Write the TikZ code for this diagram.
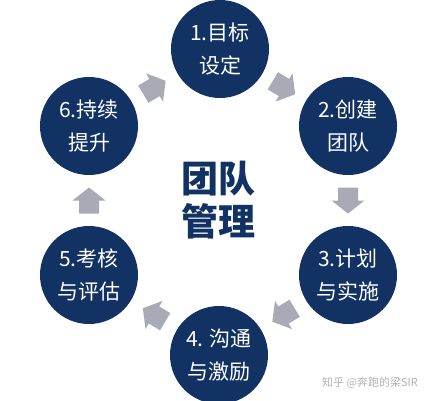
\documentclass[tikz,border=0pt]{standalone}
\usepackage{fontspec}
\setmainfont{Noto Sans CJK SC}
\usetikzlibrary{calc}

\definecolor{navy}{RGB}{17,50,98}
\definecolor{arrowgray}{RGB}{168,171,181}

\tikzset{
pics/flowarrow/.style={
code={
\fill[arrowgray] (-13,-10) -- (0,-10) -- (0,-16.5) -- (13,0) -- (0,16.5) -- (0,10) -- (-13,10) -- cycle;
}},
stage/.style={
circle,fill=navy,text=white,minimum size=98pt,inner sep=0pt,
align=center,font=\fontsize{21}{33}\selectfont
},
}

\begin{document}
\begin{tikzpicture}[x=1pt,y=1pt]
\useasboundingbox (0,0) rectangle (437,400);
\node[stage] (s1) at (220,351) {1.目标\\设定};
\node[stage] (s2) at (348,274) {2.创建\\团队};
\node[stage] (s3) at (348,125) {3.计划\\与实施};
\node[stage] (s4) at (219,45) {4. 沟通\\与激励};
\node[stage] (s5) at (89,125) {5.考核\\与评估};
\node[stage] (s6) at (89,274) {6.持续\\提升};
\foreach \a/\b/\ang in {1/2/-31,2/3/-90,3/4/-149,4/5/149,5/6/90,6/1/31} {
\pic[rotate=\ang] at ($(s\a)!.5!(s\b)$) {flowarrow};
}
\node[text=navy,align=center,font=\fontsize{37}{43}\selectfont\bfseries] (title) at (218,200) {团队\\管理};
\node[text=black!30,font=\fontsize{11}{13}\selectfont] (mark) at (370,17) {知乎 @奔跑的梁SIR};
\end{tikzpicture}
\end{document}
